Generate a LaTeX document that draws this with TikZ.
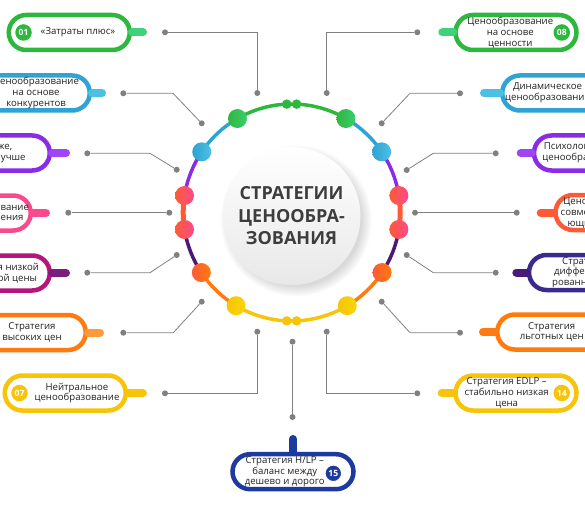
\documentclass[tikz,border=0pt]{standalone}
\usepackage{fontspec}
\setmainfont{Open Sans}
\usetikzlibrary{shapes.misc,shadows,positioning}

\definecolor{cgreen}{HTML}{2DB83D}
\definecolor{cgreenL}{HTML}{3FD27C}
\definecolor{cblue}{HTML}{2FA3D3}
\definecolor{cblueL}{HTML}{4CC0E4}
\definecolor{cviolet}{HTML}{8A2BE8}
\definecolor{cvioletL}{HTML}{9E45F5}
\definecolor{cpink}{HTML}{FA4A8E}
\definecolor{cmagenta}{HTML}{B4177C}
\definecolor{cplum}{HTML}{7A1F7E}
\definecolor{corange}{HTML}{FF7A0F}
\definecolor{corangeL}{HTML}{FF9A3A}
\definecolor{cyellow}{HTML}{F7C40A}
\definecolor{cred}{HTML}{FF5A36}
\definecolor{cindigo}{HTML}{3A2A8E}
\definecolor{cnavy}{HTML}{1D3A9E}
\definecolor{cdeep}{HTML}{4A1A78}
\definecolor{linegray}{HTML}{808080}
\definecolor{titlegray}{HTML}{3D3D3D}
\definecolor{txtgray}{HTML}{222222}

\begin{document}
\begin{tikzpicture}[%
x=1pt, y=-1pt,
pill/.style={rounded rectangle, draw=#1, fill=white, line width=4.5pt,
  minimum width=121pt, minimum height=35pt, inner sep=0pt,
  drop shadow={opacity=0.12, shadow xshift=0.5pt, shadow yshift=-2pt}},
stub/.style={draw=#1, line width=8pt, line cap=round},
txt/.style={align=center, text=txtgray, font=\fontsize{9.6}{10.8}\selectfont},
num/.style={circle, fill=#1, minimum size=16.5pt, inner sep=0pt, text=white,
  font=\bfseries\fontsize{8.6}{8.6}\selectfont},
gdot/.style={circle, fill=linegray, minimum size=6pt, inner sep=0pt},
link/.style={draw=linegray, line width=0.8pt},
ring/.style={draw=#1, line width=3.5pt},
rdot/.style 2 args={circle, minimum size=19pt, inner sep=0pt, left color=#1, right color=#2},
sdot/.style={circle, minimum size=9.5pt, inner sep=0pt, fill=#1}
]
\useasboundingbox (0,0) rectangle (585,505);
\clip (0,0) rectangle (585,505);

% left column
\node[pill=cgreen] (b1) at (69.25,32.5) {};
\node[pill=cblue] (b2) at (29.25,93) {};
\node[pill=cviolet] (b3) at (-10.75,153) {};
\node[pill=cpink] (b4) at (-29.75,213) {};
\node[pill=cmagenta] (b5) at (-10.75,273) {};
\node[pill=corange] (b6) at (25.25,332.5) {};
\node[pill=cyellow] (b7) at (65.25,393) {};

% right column
\node[pill=cgreen] (b8) at (516,32.5) {};
\node[pill=cblue] (b9) at (562.75,93) {};
\node[pill=cviolet] (b10) at (594.5,153) {};
\node[pill=cred] (b11) at (616,212.5) {};
\node[pill=cindigo] (b12) at (589.5,272.5) {};
\node[pill=corange] (b13) at (557.75,332) {};
\node[pill=cyellow] (b14) at (516,393) {};

% bottom
\node[pill=cnavy] (b15) at (293,471.7) {};

% stubs
\coordinate (s1) at (143,32.5);
\coordinate (s2) at (102,93);
\coordinate (s3) at (66,153);
\coordinate (s4) at (46,213);
\coordinate (s5) at (66,273);
\coordinate (s6) at (100,332.5);
\coordinate (s7) at (143,393);
\coordinate (s8) at (442.3,32.5);
\coordinate (s9) at (484,93);
\coordinate (s10) at (520.7,153);
\coordinate (s11) at (540.7,212.5);
\coordinate (s12) at (516.3,272.5);
\coordinate (s13) at (483,332);
\coordinate (s14) at (441.7,393);
\coordinate (s15) at (293,439);
\draw[stub=cgreenL] (b1.east) -- (s1);
\draw[stub=cblueL] (b2.east) -- (s2);
\draw[stub=cvioletL] (b3.east) -- (s3);
\draw[stub=cpink] (b4.east) -- (s4);
\draw[stub=cplum] (b5.east) -- (s5);
\draw[stub=corangeL] (b6.east) -- (s6);
\draw[stub=cyellow] (b7.east) -- (s7);
\draw[stub=cgreenL] (b8.west) -- (s8);
\draw[stub=cblueL] (b9.west) -- (s9);
\draw[stub=cvioletL] (b10.west) -- (s10);
\draw[stub=cred] (b11.west) -- (s11);
\draw[stub=cdeep] (b12.west) -- (s12);
\draw[stub=corange] (b13.west) -- (s13);
\draw[stub=cyellow] (b14.west) -- (s14);
\draw[stub=cnavy] (b15.north) -- (s15);

% labels
\node[num=cgreen] (n1) at ([xshift=17pt]b1.west) {01};
\node[num=cyellow] (n7) at ([xshift=17pt]b7.west) {07};
\node[num=cgreen] (n8) at ([xshift=-17pt]b8.east) {08};
\node[num=cyellow] (n14) at ([xshift=-17pt]b14.east) {14};
\node[num=cnavy, draw=white, line width=1pt] (n15) at (333.3,473.3) {15};
\node[txt] (t1) at ([xshift=-54pt]b1.east) {«Затраты плюс»};
\node[txt] (t2) at ([xshift=-56pt]b2.east) {Ценообразование\\на основе\\конкурентов};
\node[txt] (t3) at ([xshift=-59pt]b3.east) {Дороже,\\значит лучше};
\node[txt] (t4) at ([xshift=-47pt]b4.east) {Ценообразование\\проникновения};
\node[txt] (t5) at ([xshift=-54.5pt]b5.east) {Стратегия низкой\\начальной цены};
\node[txt] (t6) at ([xshift=-56pt]b6.east) {Стратегия\\высоких цен};
\node[txt] (t7) at ([xshift=-51pt]b7.east) {Нейтральное\\ценообразование};
\node[txt] (t8) at ([xshift=57pt]b8.west) {Ценообразование\\на основе\\ценности};
\node[txt] (t9) at ([xshift=47.5pt]b9.west) {Динамическое\\ценообразование};
\node[txt] (t10) at ([xshift=53pt]b10.west) {Психологическое\\ценообразование};
\node[txt] (t11) at ([xshift=53pt]b11.west) {Ценообразование\\совместно действу-\\ющих компаний};
\node[txt] (t12) at ([xshift=59pt]b12.west) {Стратегия\\дифференци-\\рованных цен};
\node[txt] (t13) at ([xshift=56.7pt]b13.west) {Стратегия\\льготных цен};
\node[txt] (t14) at ([xshift=53.4pt]b14.west) {Стратегия EDLP –\\стабильно низкая\\цена};
\node[txt] (t15) at ([xshift=54.5pt]b15.west) {Стратегия H/LP –\\баланс между\\дешево и дорого};

% connectors
\node[gdot] (o1) at (165,32.3) {};     \node[gdot] (i1) at (257.3,93) {};
\node[gdot] (o2) at (123.3,93.3) {};   \node[gdot] (i2) at (201.7,123.3) {};
\node[gdot] (o3) at (87.3,153.3) {};   \node[gdot] (i3) at (176.7,169.7) {};
\node[gdot] (o4) at (68.3,212.7) {};   \node[gdot] (i4) at (169.3,212.7) {};
\node[gdot] (o5) at (87.3,272.7) {};   \node[gdot] (i5) at (176.7,255) {};
\node[gdot] (o6) at (123.3,332.7) {};  \node[gdot] (i6) at (201.7,301.7) {};
\node[gdot] (o7) at (165,393.3) {};    \node[gdot] (i7) at (257.3,331.7) {};
\node[gdot] (o8) at (417.3,32.3) {};   \node[gdot] (i8) at (326.7,93) {};
\node[gdot] (o9) at (460,93.3) {};     \node[gdot] (i9) at (381.7,123.3) {};
\node[gdot] (o10) at (495.7,153.3) {}; \node[gdot] (i10) at (406.7,170) {};
\node[gdot] (o11) at (516.7,212.7) {}; \node[gdot] (i11) at (415,212.7) {};
\node[gdot] (o12) at (495.7,272.7) {}; \node[gdot] (i12) at (406.7,255) {};
\node[gdot] (o13) at (460,332.7) {};   \node[gdot] (i13) at (381.7,301.7) {};
\node[gdot] (o14) at (417.3,393.3) {}; \node[gdot] (i14) at (326.7,331.7) {};
\node[gdot] (o15) at (292.5,417) {};   \node[gdot] (i15) at (292.5,341.7) {};
\draw[link] (o1) -- (257.3,32.3) -- (i1);
\draw[link] (o2) -- (173,93.3) -- (i2);
\draw[link] (o3) -- (150,153.3) -- (i3);
\draw[link] (o4) -- (i4);
\draw[link] (o5) -- (150,272.7) -- (i5);
\draw[link] (o6) -- (173.3,332.7) -- (i6);
\draw[link] (o7) -- (257.3,393.3) -- (i7);
\draw[link] (o8) -- (326.7,32.3) -- (i8);
\draw[link] (o9) -- (410,93.3) -- (i9);
\draw[link] (o10) -- (433.3,153.3) -- (i10);
\draw[link] (o11) -- (i11);
\draw[link] (o12) -- (433.3,272.7) -- (i12);
\draw[link] (o13) -- (410,332.7) -- (i13);
\draw[link] (o14) -- (326.7,393.3) -- (i14);
\draw[link] (o15) -- (i15);

% ring
\begin{scope}[shift={(291.7,212.5)}]
\draw[ring=cgreen] (240:108.5) arc[start angle=240, end angle=300, radius=108.5];
\draw[ring=cblue] (214:108.5) arc[start angle=214, end angle=240, radius=108.5];
\draw[ring=cblue] (300:108.5) arc[start angle=300, end angle=326, radius=108.5];
\draw[ring=cviolet] (189:108.5) arc[start angle=189, end angle=214, radius=108.5];
\draw[ring=cviolet] (326:108.5) arc[start angle=326, end angle=351, radius=108.5];
\draw[ring=cred, line width=5pt] (171:108.5) arc[start angle=171, end angle=189, radius=108.5];
\draw[ring=cred, line width=5pt] (351:108.5) arc[start angle=351, end angle=369, radius=108.5];
\draw[ring=cdeep] (146.4:108.5) arc[start angle=146.4, end angle=171, radius=108.5];
\draw[ring=cdeep] (9:108.5) arc[start angle=9, end angle=33.6, radius=108.5];
\draw[ring=corange] (120.8:108.5) arc[start angle=120.8, end angle=146.4, radius=108.5];
\draw[ring=corange] (33.6:108.5) arc[start angle=33.6, end angle=59.2, radius=108.5];
\draw[ring=cyellow] (59.2:108.5) arc[start angle=59.2, end angle=120.8, radius=108.5];
\node[sdot=cgreen] (g1) at (267.4:108.5) {};
\node[sdot=cgreen] (g2) at (272.6:108.5) {};
\node[sdot=cyellow] (y1) at (87.4:108.5) {};
\node[sdot=cyellow] (y2) at (92.6:108.5) {};
\node[rdot={cgreen}{cgreenL!80!cgreen}] (r1) at (240:108.5) {};
\node[rdot={cgreen}{cgreenL!80!cgreen}] (r2) at (300:108.5) {};
\node[rdot={cblue}{cblueL}] (r3) at (214:108.5) {};
\node[rdot={cblue}{cblueL}] (r4) at (326:108.5) {};
\node[rdot={cred}{cpink}] (r5) at (189:108.5) {};
\node[rdot={cred}{cpink}] (r6) at (171:108.5) {};
\node[rdot={cred}{cpink}] (r7) at (351:108.5) {};
\node[rdot={cred}{cpink}] (r8) at (9:108.5) {};
\node[rdot={cred}{corange}] (r9) at (146.4:108.5) {};
\node[rdot={cred}{corange}] (r10) at (33.6:108.5) {};
\node[rdot={cyellow}{cyellow!70!yellow}] (r11) at (120.8:108.5) {};
\node[rdot={cyellow}{cyellow!70!yellow}] (r12) at (59.2:108.5) {};
\end{scope}

% centre
\node[circle, minimum size=138pt, top color=white, bottom color=gray!18,
  circular drop shadow={shadow xshift=4pt, shadow yshift=-4pt, opacity=0.3}] (core) at (291.5,216) {};
\node[align=center, text=titlegray, font=\bfseries\fontsize{18}{22.5}\selectfont] (title) at (core) {СТРАТЕГИИ\\ЦЕНООБРА-\\ЗОВАНИЯ};
\end{tikzpicture}
\end{document}
